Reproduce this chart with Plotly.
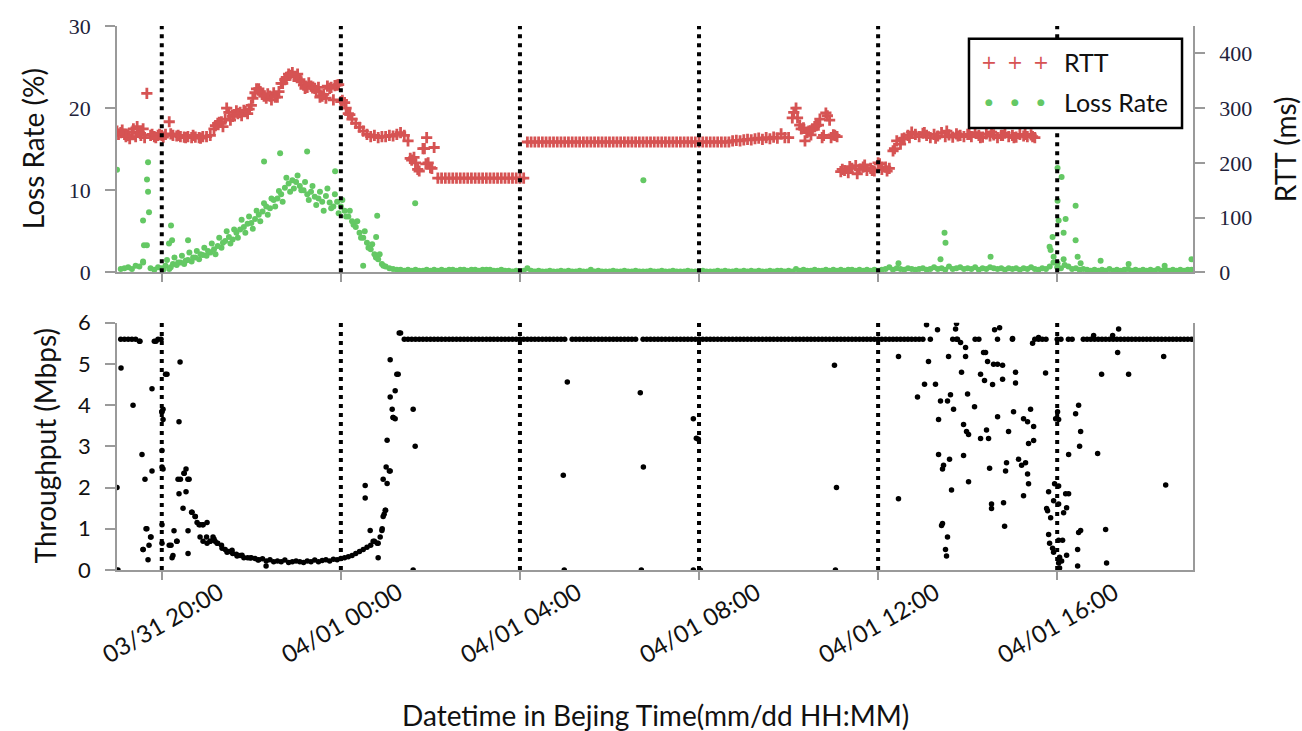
import pandas as pd
import plotly.graph_objects as go

# ---------------- data ----------------
BASE = pd.Timestamp("2019-03-31 19:00")
STEP_MIN = 5  # regular sampling interval of the main series (minutes)

# RTT (ms), every 5 min from 03/31 19:00 until 04/01 15:30
rtt_values = [
    258, 255, 252, 250, 256, 248, 255, 262, 327, 250, 248, 250,   # 19h
    250, 252, 275, 250, 249, 248, 247, 248, 246, 247, 246, 248,   # 20h
    248, 250, 262, 272, 275, 280, 292, 285, 295, 292, 296, 290,   # 21h
    305, 328, 335, 325, 318, 322, 328, 320, 345, 352, 362, 365,   # 22h
    358, 352, 342, 338, 340, 336, 338, 322, 318, 336, 315, 342,   # 23h
    312, 310, 290, 280, 272, 265, 258, 252, 248, 250, 246, 248,   # 00h
    248, 250, 249, 252, 255, 250, 240, 205, 200, 185, 226, 246,   # 01h
    191, 228, 172, 172, 172, 172, 172, 172, 172, 172, 172, 172,   # 02h
    172, 172, 172, 172, 172, 172, 172, 172, 172, 172, 172, 172,   # 03h
    172, 172, 238, 238, 238, 238, 238, 238, 238, 238, 238, 238,   # 04h
    238, 238, 238, 238, 238, 238, 238, 238, 238, 238, 238, 238,   # 05h
    238, 238, 238, 238, 238, 238, 238, 238, 238, 238, 238, 238,   # 06h
    238, 238, 238, 238, 238, 238, 238, 238, 238, 238, 238, 238,   # 07h
    238, 238, 238, 238, 238, 238, 238, 238, 238, 240, 241, 240,   # 08h
    242, 243, 242, 244, 245, 243, 246, 244, 247, 245, 253, 246,   # 09h
    246, 282, 300, 269, 264, 255, 251, 266, 269, 246, 291, 278,   # 10h
    251, 248, 184, 186, 182, 190, 195, 188, 192, 186, 190, 185,   # 11h
    200, 188, 192, 190, 222, 240, 234, 245, 250, 256, 252, 248,   # 12h
    254, 250, 246, 252, 249, 255, 248, 251, 247, 253, 250, 248,   # 13h
    252, 248, 255, 250, 247, 253, 249, 251, 246, 250, 254, 248,   # 14h
    250, 247, 252, 249, 248, 251, 246,                            # 15h
]
rtt_extra_min = [2, 7, 12, 17, 22, 27, 32, 37, 47, 52, 57, 62, 72, 82, 92, 102, 112,
                 132, 137, 142, 147, 152, 157, 162, 167, 172, 177,
                 182, 187, 192, 197, 202, 207, 212, 217, 222, 227, 232, 237,
                 242, 247, 252, 257, 262, 267, 272, 277, 282, 287, 292, 297,
                 302, 307, 312, 393, 398, 403, 412, 414, 417, 422,
                 907, 912, 917, 922, 927, 932, 937, 942, 947, 952, 957, 962,
                 972, 982, 992, 1002, 1012, 1022, 1032, 1042, 1052, 1062,
                 1082, 1097, 1112, 1127, 1142, 1157, 1172, 1187, 1202, 1217, 1227]
rtt_extra_val = [252, 260, 248, 244, 262, 266, 250, 246, 252, 246, 252, 247, 253, 250, 246, 250, 245,
                 268, 274, 266, 300, 278, 288, 290, 286, 294, 298,
                 318, 335, 330, 322, 326, 315, 320, 330, 345, 356, 360, 358,
                 362, 348, 336, 346, 337, 332, 320, 325, 340, 338, 341, 343,
                 314, 300, 288, 208, 210, 188, 226, 198, 200, 190,
                 292, 282, 262, 240, 258, 262, 268, 280, 250, 286, 246, 250,
                 188, 193, 180, 196, 186, 198, 185, 226, 244, 246,
                 255, 245, 258, 249, 252, 246, 256, 250, 246, 252, 248]

# Loss rate (%), every 5 min from 03/31 19:00 until 04/01 19:00
loss_values = [
    12.5, 0.4, 0.5, 0.6, 0.4, 0.8, 0.7, 1.2, 3.3, 0.5, 0.3, 0.6,     # 19h
    0.5, 0.8, 0.4, 1.0, 0.9, 1.2, 1.0, 1.5, 1.3, 1.8, 1.6, 2.1,      # 20h
    2.0, 2.4, 2.8, 3.2, 3.0, 3.8, 4.3, 4.0, 4.8, 5.2, 5.5, 5.9,      # 21h
    6.0, 6.5, 7.0, 7.4, 8.0, 7.8, 8.8, 9.0, 9.5, 10.3, 10.8, 11.2,   # 22h
    11.0, 10.5, 10.0, 9.5, 9.8, 9.2, 9.0, 8.6, 9.3, 8.5, 8.0, 8.6,   # 23h
    8.0, 7.5, 6.8, 6.2, 5.5, 4.8, 4.2, 3.6, 2.8, 2.2, 1.6, 1.0,      # 00h
    0.7, 0.5, 0.4, 0.3, 0.3, 0.2, 0.3, 0.2, 0.3, 0.2, 0.2, 0.3,      # 01h
    0.2, 0.3, 0.2, 0.3, 0.2, 0.3, 0.3, 0.2, 0.3, 0.3, 0.2, 0.3,      # 02h
    0.3, 0.2, 0.3, 0.3, 0.3, 0.2, 0.2, 0.3, 0.2, 0.2, 0.1, 0.2,      # 03h
    0.1, 0.2, 0.5, 0.2, 0.1, 0.2, 0.1, 0.1, 0.2, 0.1, 0.1, 0.2,      # 04h
    0.1, 0.2, 0.1, 0.1, 0.2, 0.1, 0.1, 0.3, 0.1, 0.2, 0.1, 0.1,      # 05h
    0.1, 0.2, 0.1, 0.1, 0.2, 0.1, 0.1, 0.2, 0.1, 0.1, 0.1, 0.2,      # 06h
    0.1, 0.1, 0.2, 0.1, 0.1, 0.2, 0.1, 0.1, 0.1, 0.2, 0.1, 0.1,      # 07h
    0.1, 0.2, 0.1, 0.1, 0.1, 0.2, 0.1, 0.2, 0.1, 0.1, 0.2, 0.1,      # 08h
    0.2, 0.1, 0.2, 0.1, 0.2, 0.1, 0.1, 0.2, 0.1, 0.2, 0.2, 0.1,      # 09h
    0.2, 0.1, 0.4, 0.2, 0.3, 0.2, 0.2, 0.3, 0.2, 0.2, 0.3, 0.2,      # 10h
    0.3, 0.2, 0.3, 0.2, 0.3, 0.3, 0.2, 0.3, 0.2, 0.3, 0.2, 0.3,      # 11h
    0.2, 0.3, 0.4, 0.6, 0.3, 0.5, 0.4, 0.3, 0.5, 0.4, 0.3, 0.4,      # 12h
    0.5, 0.3, 0.4, 0.6, 0.4, 0.5, 0.3, 0.7, 0.4, 0.5, 0.6, 0.4,      # 13h
    0.5, 0.4, 0.6, 0.3, 0.5, 0.4, 0.6, 0.5, 0.4, 0.5, 0.3, 0.5,      # 14h
    0.4, 0.5, 0.3, 0.5, 0.4, 0.6, 0.4, 0.3, 0.5, 0.4, 0.7, 1.2,      # 15h
    0.6, 0.5, 0.9, 0.7, 0.4, 0.5, 0.3, 0.4, 0.3, 0.2, 0.3, 0.2,      # 16h
    0.3, 0.2, 0.4, 0.2, 0.3, 0.2, 0.3, 0.4, 0.2, 0.3, 0.2, 0.3,      # 17h
    0.2, 0.3, 0.2, 0.4, 0.2, 0.3, 0.2, 0.3, 0.2, 0.3, 0.2, 0.3,      # 18h
    0.3,                                                             # 19h
]
loss_extra_min = [41.6, 40.2, 41.6, 42.9, 34.9, 36.2, 34.9, 72.4, 73.8, 69.7, 95.2,
                  62, 67, 72, 77, 82, 87, 92, 97, 102, 107, 112, 117,
                  122, 127, 132, 137, 142, 147, 152, 157, 162, 167, 172, 177,
                  182, 187, 192, 197, 202, 207, 212, 217, 222, 227, 232, 237,
                  242, 247, 252, 257, 262, 267, 272, 277, 282, 287, 292, 297,
                  302, 307, 312, 317, 322, 327, 332, 337, 342, 347, 352, 357,
                  197.1, 218.6, 254.8, 292.3, 348.7, 347.3, 329.9, 399.6, 705.4,
                  1109, 1110.3, 1170.7, 1047.3, 1103.6,
                  1260.5, 1265.9, 1260.5, 1261.9, 1271.3, 1268.6, 1253.8, 1249.8, 1251.2,
                  1255.2, 1260.5, 1268.6, 1284.7, 1284.7, 1287.4, 1291.4, 1318.2, 1355.7,
                  1404, 1440]
loss_extra_val = [13.4, 11.3, 9.8, 7.3, 6.3, 3.3, 1.3, 5.7, 3.9, 3.5, 3.9,
                  0.3, 1.5, 0.6, 1.8, 1.2, 2.0, 1.4, 2.4, 1.8, 2.6, 2.2, 3.0,
                  2.6, 3.5, 2.2, 4.2, 3.6, 5.0, 3.5, 5.2, 4.2, 6.4, 4.8, 6.8,
                  5.3, 7.5, 6.2, 8.4, 7.0, 9.0, 8.0, 9.9, 8.6, 11.5, 9.8, 10.2,
                  11.8, 10.0, 11.0, 8.8, 10.5, 8.2, 9.8, 7.5, 10.2, 7.8, 9.5, 7.2,
                  8.8, 6.8, 7.5, 5.8, 6.2, 4.2, 5.0, 3.0, 3.4, 1.8, 2.2, 0.8,
                  13.5, 14.5, 14.7, 12.3, 6.9, 4.3, 0.8, 8.4, 11.2,
                  4.8, 3.6, 1.9, 1.1, 1.6,
                  12.7, 11.6, 8.7, 6.3, 6.5, 4.8, 4.3, 3.1, 2.7,
                  1.9, 1.1, 1.6, 8.1, 3.9, 1.9, 1.1, 1.4, 1.0,
                  0.8, 1.6]

# Throughput (Mbps), every 5 min from 03/31 19:00 until 04/01 19:00 (None = no sample)
N = None
tput_values = [
    2.0, 5.6, 5.6, 5.6, 5.6, 5.6, 5.55, 0.5, 1.0, 0.8, 5.55, 5.6,               # 19h
    3.84, 4.75, 0.6, 0.35, 0.7, 2.2, 2.35, 2.2, 1.4, 1.3, 1.1, 1.1,             # 20h
    0.8, 0.7, 0.75, 0.65, 0.6, 0.5, 0.45, 0.4, 0.38, 0.35, 0.3, 0.3,            # 21h
    0.3, 0.28, 0.25, 0.27, 0.22, 0.25, 0.2, 0.22, 0.2, 0.24, 0.18, 0.2,         # 22h
    0.22, 0.2, 0.18, 0.22, 0.2, 0.24, 0.2, 0.23, 0.25, 0.22, 0.26, 0.25,        # 23h
    0.28, 0.3, 0.32, 0.35, 0.4, 0.45, 0.5, 0.55, 0.6, 0.7, 0.65, 0.96,          # 00h
    1.45, 2.4, 3.7, 4.75, 5.75, 5.6, 5.6, 5.6, 5.6, 5.6, 5.6, 5.6,              # 01h
    5.6, 5.6, 5.6, 5.6, 5.6, 5.6, 5.6, 5.6, 5.6, 5.6, 5.6, 5.6,                 # 02h
    5.6, 5.6, 5.6, 5.6, 5.6, 5.6, 5.6, 5.6, 5.6, 5.6, 5.6, 5.6,                 # 03h
    5.6, 5.6, 5.6, 5.6, 5.6, 5.6, 5.6, 5.6, 5.6, 5.6, 5.6, 5.6,                 # 04h
    5.6, N, 5.6, 5.6, 5.6, 5.6, 5.6, 5.6, 5.6, 5.6, 5.6, 5.6,                   # 05h
    5.6, 5.6, 5.6, 5.6, 5.6, 5.6, 5.6, 5.6, N, 5.6, 5.6, 5.6,                   # 06h
    5.6, 5.6, 5.6, 5.6, 5.6, 5.6, 5.6, 5.6, 5.6, 5.6, 5.6, 5.6,                 # 07h
    5.6, 5.6, 5.6, 5.6, 5.6, 5.6, 5.6, 5.6, 5.6, 5.6, 5.6, 5.6,                 # 08h
    5.6, 5.6, 5.6, 5.6, 5.6, 5.6, 5.6, 5.6, 5.6, 5.6, 5.6, 5.6,                 # 09h
    5.6, 5.6, 5.6, 5.6, 5.6, 5.6, 5.6, 5.6, 5.6, 5.6, 5.6, 5.6,                 # 10h
    5.6, 5.6, 5.6, 5.6, 5.6, 5.6, 5.6, 5.6, 5.6, 5.6, 5.6, 5.6,                 # 11h
    5.6, 5.6, 5.6, 5.6, 5.6, 5.6, 5.6, 5.6, 5.6, 5.6, 5.6, 5.6,                 # 12h
    5.6, N, 5.6, N, N, N, N, N, 5.6, 5.6, N, N,                                 # 13h
    N, N, 5.6, 5.6, N, N, N, N, 5.6, N, N, N,                                   # 14h
    5.6, N, N, N, N, N, 5.6, 5.6, 5.6, 5.6, N, N,                               # 15h
    5.6, 5.6, N, 5.6, 5.6, N, N, 5.6, 5.6, 5.6, 5.6, 5.6,                       # 16h
    5.6, 5.6, 5.6, 5.6, 5.6, 5.6, 5.6, 5.6, 5.6, 5.6, 5.6, 5.6,                 # 17h
    5.6, 5.6, 5.6, 5.6, 5.6, 5.6, 5.6, 5.6, 5.6, 5.6, 5.6, 5.6,                 # 18h
    5.6,                                                                        # 19h
]
tput_extra_min = [
    1.3, 5.4, 21.5, 30.8, 33.5, 37.5, 38.9, 34.9, 42.9, 41.6, 45.6, 46.9, 46.9, 52.3, 59.0,
    60.3, 61.7, 61.7, 60.3, 60.3, 61.7, 60.3, 60.3, 67,
    84.5, 83.1, 72.4, 73.8, 76.4, 80.5, 81.8, 83.1, 89.8, 92.5, 88.5, 92.5, 96.6, 95.2, 95.2,
    100.6, 104.6, 107.3, 111.3, 115.3, 120.7, 111.3, 115.3, 120.7, 124.7, 128.7, 131.4, 134.1,
    140.8, 147.5, 154.2, 160.9, 167.6, 178.4, 189, 199.8,
    339.3, 343.3, 348.7, 350, 352.7, 355.4, 356.7, 358, 359.4, 332.6, 332.6, 356.7, 362, 360.7,
    366.1, 362, 366.1, 368.8, 370.1, 372.8, 372.8, 376.8, 366.1, 378.2, 396.9, 399.6, 396.9,
    603.5, 598.1, 701.3, 705.4, 772.4, 776.4, 779.1, 961.5, 964.2,
    599.4, 702.7, 772.4, 781.8, 962.8,
    1084.9, 1099.6, 1123.8, 1125.1, 1176.1, 1182.8, 1342.3, 1308.8, 1334.3,
    1047.3, 1087.5, 1114.4, 1137.2, 1126.4, 1130.5, 1137.2, 1161.3, 1164,
    1166.7, 1174.7, 1180.1, 1186.8, 1131.8, 1157.3, 1162.6, 1173.4, 1186.8, 1204.2, 1204.2,
    1244.4, 1319.5, 1355.7, 1402.7, 1341, 1227, 1235, 1200.2, 1082.2, 1096.9, 1072.8,
    1103.6, 1113, 1117, 1121.1, 1139.9, 1149.2, 1101, 1134.5, 1138.5, 1141.2,
    1157.3, 1168, 1165.3, 1180.1, 1194.8, 1201.5, 1214.9, 1220.3, 1224.3, 1228.4, 1221.6, 1228.4,
    1101, 1115.7, 1134.5, 1107.7, 1106.3, 1169.4, 1192.1, 1190.8, 1208.2, 1212.3, 1217.6, 1220.3,
    1141.2, 1221.6, 1118.4, 1047.3, 1214.9, 1172, 1172, 1188.1, 1189.5, 1106.3, 1105, 1113,
    1110.3, 1111.7,
    1256.5, 1261.9, 1248.5, 1255.2, 1261.9, 1245.8, 1247.1, 1251.2, 1260.5, 1261.9, 1257.9,
    1271.3, 1275.3, 1272.6, 1268.6, 1248.5, 1249.8, 1253.8, 1255.2, 1261.9, 1267.2, 1263.2,
    1265.9, 1261.9, 1263.2, 1272.6, 1287.4, 1288.7, 1291.4, 1324.9, 1326.2, 1287.4, 1288.7,
    1284.7, 1291.4, 1290, 1275.3, 1314.2, 1405.4,
]
tput_extra_val = [
    0.0, 4.9, 4.0, 5.55, 2.8, 2.2, 1.0, 0.5, 0.6, 0.25, 0.8, 4.4, 2.4, 5.55, 5.6,
    3.84, 3.9, 3.65, 2.9, 2.5, 2.45, 1.1, 0.65, 4.75,
    5.05, 3.6, 0.6, 0.3, 0.95, 0.7, 2.2, 1.85, 2.35, 2.45, 1.5, 1.9, 2.2, 0.95, 0.4,
    1.4, 1.3, 1.15, 1.1, 1.1, 1.15, 0.8, 0.7, 0.65, 0.7, 0.8, 0.7, 0.65,
    0.53, 0.43, 0.48, 0.34, 0.36, 0.29, 0.24, 0.1,
    0.96, 0.7, 0.65, 0.3, 0.8, 1.0, 1.3, 1.35, 1.45, 1.75, 2.05, 2.2, 2.1, 2.5,
    2.4, 3.15, 4.2, 3.9, 3.7, 3.67, 4.35, 4.75, 5.1, 5.75, 3.9, 3.0, 0.0,
    4.56, 2.3, 4.3, 2.5, 3.67, 3.2, 3.17, 4.97, 2.0,
    0.0, 0.0, 0.0, 0.0, 0.0,
    5.95, 5.83, 5.85, 5.98, 5.83, 5.88, 5.85, 5.69, 5.69,
    5.18, 5.06, 5.18, 5.18, 5.6, 5.52, 5.4, 5.28, 5.28,
    5.06, 4.99, 4.99, 4.97, 4.8, 4.75, 4.6, 4.5, 4.63, 4.8, 4.54,
    4.78, 4.75, 4.75, 5.18, 5.28, 5.5, 5.64, 5.62, 4.51, 4.51, 4.2,
    4.1, 4.1, 4.25, 3.9, 4.27, 3.96, 3.65, 3.53, 3.36, 3.29,
    3.19, 3.19, 3.4, 3.72, 3.36, 3.84, 3.67, 3.6, 3.9, 3.48, 3.07, 3.14,
    2.8, 2.69, 2.78, 2.54, 2.45, 2.47, 2.6, 2.4, 2.69, 2.54, 2.6, 2.33,
    2.14, 2.09, 1.94, 1.73, 1.8, 1.6, 1.49, 1.63, 1.06, 1.13, 1.08, 0.8,
    0.5, 0.34,
    2.09, 2.04, 1.9, 1.68, 1.6, 1.49, 1.44, 1.27, 3.84, 3.65, 3.67,
    1.85, 1.85, 1.51, 1.39, 0.86, 0.65, 0.53, 0.43, 0.72, 0.72, 0.31,
    0.22, 0.17, 0.05, 0.36, 0.5, 0.91, 0.96, 0.98, 0.17, 0.1, 4.0,
    3.79, 3.36, 3.0, 2.8, 2.83, 2.06,
]

tick_times = ["2019-03-31 20:00", "2019-04-01 00:00", "2019-04-01 04:00",
              "2019-04-01 08:00", "2019-04-01 12:00", "2019-04-01 16:00"]
tick_labels = ["03/31 20:00", "04/01 00:00", "04/01 04:00",
               "04/01 08:00", "04/01 12:00", "04/01 16:00"]
x_range = ["2019-03-31 19:00", "2019-04-01 19:02"]

RED = "#d65353"
GREEN = "#64c864"


def grid_times(n):
    return [BASE + pd.Timedelta(minutes=STEP_MIN * i) for i in range(n)]


def extra_times(mins):
    return [BASE + pd.Timedelta(minutes=m) for m in mins]


rtt_x = grid_times(len(rtt_values)) + extra_times(rtt_extra_min)
rtt_y = rtt_values + rtt_extra_val
loss_x = grid_times(len(loss_values)) + extra_times(loss_extra_min)
loss_y = loss_values + loss_extra_val
tput_x = grid_times(len(tput_values)) + extra_times(tput_extra_min)
tput_y = tput_values + tput_extra_val

fig = go.Figure()
fig.add_trace(go.Scatter(x=loss_x, y=loss_y, mode="markers", name="Loss Rate",
                         marker=dict(symbol="circle", size=6, color=GREEN, line=dict(width=0)),
                         xaxis="x", yaxis="y", showlegend=False))
fig.add_trace(go.Scatter(x=rtt_x, y=rtt_y, mode="markers", name="RTT",
                         marker=dict(symbol="cross-thin", size=8, color=RED, line=dict(width=2.8, color=RED)),
                         xaxis="x", yaxis="y2", showlegend=False))
fig.add_trace(go.Scatter(x=tput_x, y=tput_y, mode="markers", name="Throughput",
                         marker=dict(symbol="circle", size=5.5, color="black", line=dict(width=0)),
                         xaxis="x2", yaxis="y3", showlegend=False))

AX = "#9a9a9a"
TOP_DOM = [0.5473, 1.0]
BOT_DOM = [0.0, 0.4545]

common_x = dict(range=x_range, type="date", tickvals=tick_times, showticklabels=False,
                ticks="outside", ticklen=8, tickwidth=1.5, tickcolor=AX,
                showline=True, linecolor=AX, linewidth=1.5, showgrid=False, zeroline=False)
fig.update_layout(
    width=1302, height=731,
    margin=dict(l=117, r=109, t=20, b=161),
    paper_bgcolor="white", plot_bgcolor="white",
    xaxis=dict(domain=[0, 1], anchor="y", **common_x),
    xaxis2=dict(domain=[0, 1], anchor="y3", matches="x", **common_x),
    yaxis=dict(domain=TOP_DOM, anchor="x", range=[0, 30], tickvals=[0, 10, 20, 30],
               ticks="outside", ticklen=10, tickwidth=1.5, tickcolor=AX,
               showline=True, linecolor=AX, linewidth=1.5, showgrid=False, zeroline=False,
               tickfont=dict(family="Liberation Serif", size=22, color="#22223a"),
               ticklabelstandoff=10),
    yaxis2=dict(overlaying="y", side="right", anchor="x", range=[0, 450],
                tickvals=[0, 100, 200, 300, 400],
                ticks="outside", ticklen=10, tickwidth=1.5, tickcolor=AX,
                showline=True, linecolor=AX, linewidth=1.5, showgrid=False, zeroline=False,
                tickfont=dict(family="Liberation Serif", size=22, color="#22223a"),
                ticklabelstandoff=10),
    yaxis3=dict(domain=BOT_DOM, anchor="x2", range=[0, 6], tickvals=[0, 1, 2, 3, 4, 5, 6],
                ticks="outside", ticklen=10, tickwidth=1.5, tickcolor=AX,
                showline=True, mirror=True, linecolor=AX, linewidth=1.5,
                showgrid=False, zeroline=False,
                tickfont=dict(family="Lato", size=22, color="#111"),
                ticklabelstandoff=10),
    showlegend=False,
)

# dotted vertical markers every 4 hours
for t in tick_times:
    fig.add_shape(type="line", xref="x", yref="y domain", x0=t, x1=t, y0=0, y1=1,
                  line=dict(color="black", width=4, dash="4px,5px"))
    fig.add_shape(type="line", xref="x2", yref="y3 domain", x0=t, x1=t, y0=0, y1=1,
                  line=dict(color="black", width=4, dash="4px,5px"))

# rotated x tick labels centred on each tick
for t, lab in zip(tick_times, tick_labels):
    fig.add_annotation(x=t, xref="x2", y=0, yref="paper", yshift=-52, text=lab,
                       showarrow=False, textangle=-30, xanchor="center", yanchor="middle",
                       font=dict(family="Lato", size=24, color="#111"))

TITLE_FONT = dict(family="Lato", size=28, color="#111")
fig.add_annotation(text="Datetime in Bejing Time(mm/dd HH:MM)", xref="paper", yref="paper",
                   x=0.5, y=0, yshift=-145, showarrow=False, xanchor="center", yanchor="middle",
                   font=TITLE_FONT)
fig.add_annotation(text="Loss Rate (%)", xref="paper", yref="paper", x=0, xshift=-84,
                   y=sum(TOP_DOM) / 2, showarrow=False, textangle=-90,
                   xanchor="center", yanchor="middle", font=TITLE_FONT)
fig.add_annotation(text="RTT (ms)", xref="paper", yref="paper", x=1, xshift=92,
                   y=sum(TOP_DOM) / 2, showarrow=False, textangle=-90,
                   xanchor="center", yanchor="middle", font=TITLE_FONT)
fig.add_annotation(text="Throughput (Mbps)", xref="paper", yref="paper", x=0, xshift=-72,
                   y=sum(BOT_DOM) / 2, showarrow=False, textangle=-90,
                   xanchor="center", yanchor="middle", font=TITLE_FONT)

# legend box (drawn manually to show three sample markers per entry)
fig.add_shape(type="rect", xref="paper", yref="paper", x0=0.7918, x1=0.9898, y0=0.8127, y1=0.9764,
              line=dict(color="black", width=2.5), fillcolor="white", layer="above")
LEG_FONT = dict(family="Lato", size=25, color="#111")
for dx in (-26, 0, 26):
    fig.add_annotation(text="+", xref="paper", yref="paper", x=0.8346, y=0.9345, xshift=dx,
                       showarrow=False, xanchor="center", yanchor="middle",
                       font=dict(family="DejaVu Sans", size=19, color=RED))
    fig.add_annotation(text="\u25CF", xref="paper", yref="paper", x=0.8346, y=0.860, xshift=dx,
                       showarrow=False, xanchor="center", yanchor="middle",
                       font=dict(family="DejaVu Sans", size=9, color=GREEN))
fig.add_annotation(text="RTT", xref="paper", yref="paper", x=0.8783, y=0.9345, showarrow=False,
                   xanchor="left", yanchor="middle", font=LEG_FONT)
fig.add_annotation(text="Loss Rate", xref="paper", yref="paper", x=0.8783, y=0.860, showarrow=False,
                   xanchor="left", yanchor="middle", font=LEG_FONT)

# remove the browser's default page margin so the figure sits at the window origin
fig.write_html("out.html", config={"displayModeBar": False},
               post_script="document.body.style.margin='0';")
